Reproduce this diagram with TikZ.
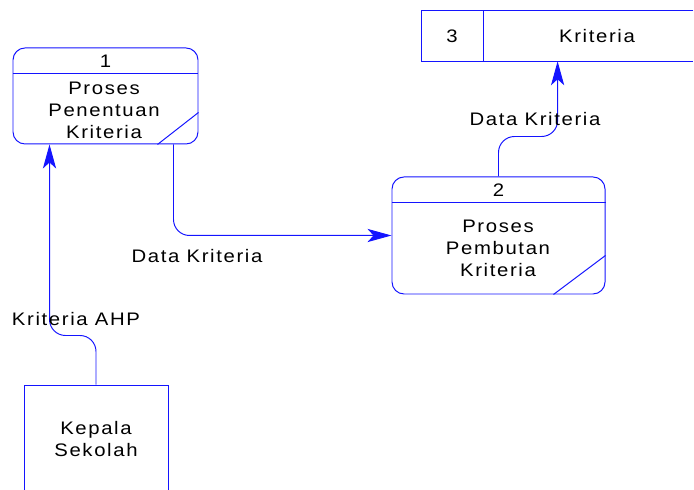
\documentclass[tikz,border=0pt]{standalone}
\usepackage{fontspec}
\setmainfont[FakeStretch=1.12, LetterSpace=9]{Liberation Sans}
\usepackage{tikz}
\usetikzlibrary{arrows, arrows.meta}

\definecolor{dfdblue}{RGB}{20,20,255}
\tikzset{
	dfdline/.style={draw=dfdblue, line width=0.7pt},
	flow/.style={dfdline, rounded corners=0.4cm, -{Stealth[length=0.6cm,width=0.33cm,inset=0.15cm]}},
	process/.style={dfdline, rounded corners=0.3cm, inner sep=0pt},
	entity/.style={dfdline, inner sep=0pt, minimum width=3.6cm, minimum height=3.625cm}
}

\begin{document}
\begin{tikzpicture}[font=\fontsize{12.9}{15.6}\selectfont]
	\path[use as bounding box, clip] (0,0) rectangle (17.35,12.25);
	
	%processes
	\node[process, minimum width=4.625cm, minimum height=2.4cm] (p1) at (2.6375,9.85) {};
	\node (p1num) at (2.6375,10.725) {1};
	\node[align=center] (p1txt) at (2.6,9.5) {Proses\\Penentuan\\Kriteria};
	\draw[dfdline] ([yshift=-0.65cm]p1.north west) -- ([yshift=-0.65cm]p1.north east);
	\draw[dfdline] ([xshift=-1.025cm]p1.south east) -- ([yshift=0.8cm]p1.south east);
	%
	\node[process, minimum width=5.325cm, minimum height=2.925cm] (p2) at (12.4625,6.3625) {};
	\node (p2num) at (12.4625,7.5) {2};
	\node[align=center] (p2txt) at (12.45,6.04) {Proses\\Pembutan\\Kriteria};
	\draw[dfdline] ([yshift=-0.65cm]p2.north west) -- ([yshift=-0.65cm]p2.north east);
	\draw[dfdline] ([xshift=-1.3cm]p2.south east) -- ([yshift=0.975cm]p2.south east);
	
	%data store
	\node[inner sep=0pt, minimum width=6.78cm, minimum height=1.25cm] (s3) at (13.94,11.35) {};
	\draw[dfdline] (s3.north east) -- (s3.north west) -- (s3.south west) -- (s3.south east);
	\draw[dfdline] ([xshift=1.55cm]s3.north west) -- ([xshift=1.55cm]s3.south west);
	\node (s3num) at (11.3,11.35) {3};
	\node (s3txt) at (14.925,11.35) {Kriteria};
	
	%external entity
	\node[entity, draw, label={[align=center,yshift=0.4625cm]center:Kepala\\Sekolah}] (kep) at (2.4,0.8125) {};
	
	%flows
	\draw[flow] (kep.north) -- ++(0,1.225) -| ([xshift=0.925cm]p1.south west);
	\draw[flow] ([xshift=-0.625cm]p1.south east) |- (p2.west);
	\draw[flow] (p2.north) -- ++(0,1.0) -| (s3.south);
	
	%flow labels
	\node (ahp) at (1.9,4.275) {Kriteria AHP};
	\node (dk1) at (4.925,5.85) {Data Kriteria};
	\node (dk2) at (13.375,9.275) {Data Kriteria};
\end{tikzpicture}
\end{document}
